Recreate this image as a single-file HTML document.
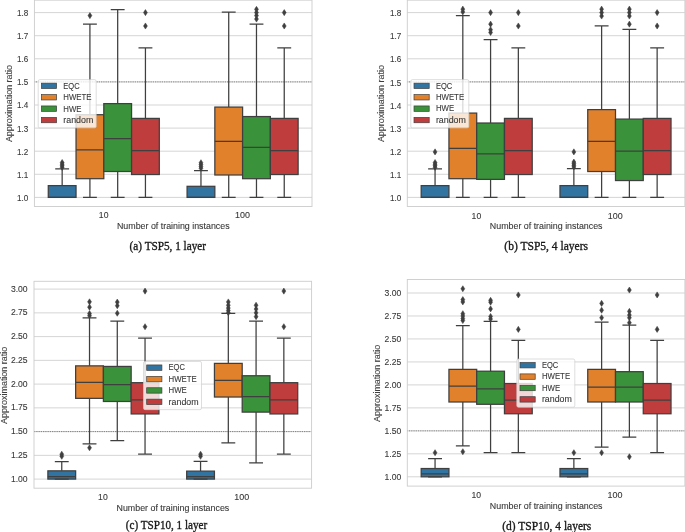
<!DOCTYPE html>
<html><head><meta charset="utf-8"><title>Boxplots</title>
<style>
html,body{margin:0;padding:0;background:#fff;}
body{width:685px;height:532px;overflow:hidden;font-family:"Liberation Sans",sans-serif;}
svg{display:block;will-change:transform;}
.ss{font-family:"Liberation Sans",sans-serif;fill:#383838;stroke:#383838;stroke-width:0.1px;}
.sf{font-family:"Liberation Serif",serif;fill:#1a1a1a;stroke:#1a1a1a;stroke-width:0.34px;}
</style></head><body>
<svg width="685" height="532" viewBox="0 0 685 532">
<rect width="685" height="532" fill="#fff"/>
<rect x="34.4" y="-0.6" width="277.6" height="207.1" fill="#fff"/>
<path d="M34.4 197.4H312M34.4 174.3H312M34.4 151.2H312M34.4 128.1H312M34.4 105H312M34.4 81.9H312M34.4 58.8H312M34.4 35.7H312M34.4 12.6H312" stroke="#d3d3d3" stroke-width="0.95" fill="none"/>
<path d="M34.4 81.9H312" stroke="#222" stroke-opacity="0.85" stroke-width="0.75" stroke-dasharray="0.75 1.05" fill="none"/>
<rect x="48.28" y="185.62" width="27.76" height="11.78" fill="#3274a1" stroke="#3f3f3f" stroke-width="1.25"/>
<path d="M55.22 197.4H69.1M62.16 185.62V168.99M55.22 168.99H69.1M48.28 197.4H76.04" stroke="#3f3f3f" stroke-width="1.25" fill="none"/>
<path d="M62.16 164.32l1.95 3.05l-1.95 3.05l-1.95 -3.05z" fill="#3f3f3f" stroke="#3f3f3f" stroke-width="0.5" stroke-linejoin="miter"/>
<path d="M62.16 162.7l1.95 3.05l-1.95 3.05l-1.95 -3.05z" fill="#3f3f3f" stroke="#3f3f3f" stroke-width="0.5" stroke-linejoin="miter"/>
<path d="M62.16 161.09l1.95 3.05l-1.95 3.05l-1.95 -3.05z" fill="#3f3f3f" stroke="#3f3f3f" stroke-width="0.5" stroke-linejoin="miter"/>
<path d="M62.16 159.47l1.95 3.05l-1.95 3.05l-1.95 -3.05z" fill="#3f3f3f" stroke="#3f3f3f" stroke-width="0.5" stroke-linejoin="miter"/>
<rect x="76.04" y="114.7" width="27.76" height="63.99" fill="#e1812c" stroke="#3f3f3f" stroke-width="1.25"/>
<path d="M89.92 178.69V197.4M82.98 197.4H96.86M89.92 114.7V24.15M82.98 24.15H96.86M76.04 149.81H103.8" stroke="#3f3f3f" stroke-width="1.25" fill="none"/>
<path d="M89.92 12.55l1.95 3.05l-1.95 3.05l-1.95 -3.05z" fill="#3f3f3f" stroke="#3f3f3f" stroke-width="0.5" stroke-linejoin="miter"/>
<rect x="103.8" y="103.61" width="27.76" height="67.91" fill="#3a923a" stroke="#3f3f3f" stroke-width="1.25"/>
<path d="M117.68 171.53V197.4M110.74 197.4H124.62M117.68 103.61V9.6M110.74 9.6H124.62M103.8 138.5H131.56" stroke="#3f3f3f" stroke-width="1.25" fill="none"/>
<rect x="131.56" y="118.4" width="27.76" height="56.13" fill="#c03d3e" stroke="#3f3f3f" stroke-width="1.25"/>
<path d="M145.44 174.53V197.4M138.5 197.4H152.38M145.44 118.4V47.94M138.5 47.94H152.38M131.56 150.51H159.32" stroke="#3f3f3f" stroke-width="1.25" fill="none"/>
<path d="M145.44 22.95l1.95 3.05l-1.95 3.05l-1.95 -3.05z" fill="#3f3f3f" stroke="#3f3f3f" stroke-width="0.5" stroke-linejoin="miter"/>
<path d="M145.44 9.55l1.95 3.05l-1.95 3.05l-1.95 -3.05z" fill="#3f3f3f" stroke="#3f3f3f" stroke-width="0.5" stroke-linejoin="miter"/>
<rect x="187.08" y="186.31" width="27.76" height="11.09" fill="#3274a1" stroke="#3f3f3f" stroke-width="1.25"/>
<path d="M194.02 197.4H207.9M200.96 186.31V170.6M194.02 170.6H207.9M187.08 197.4H214.84" stroke="#3f3f3f" stroke-width="1.25" fill="none"/>
<path d="M200.96 165.24l1.95 3.05l-1.95 3.05l-1.95 -3.05z" fill="#3f3f3f" stroke="#3f3f3f" stroke-width="0.5" stroke-linejoin="miter"/>
<path d="M200.96 163.4l1.95 3.05l-1.95 3.05l-1.95 -3.05z" fill="#3f3f3f" stroke="#3f3f3f" stroke-width="0.5" stroke-linejoin="miter"/>
<path d="M200.96 161.55l1.95 3.05l-1.95 3.05l-1.95 -3.05z" fill="#3f3f3f" stroke="#3f3f3f" stroke-width="0.5" stroke-linejoin="miter"/>
<path d="M200.96 159.7l1.95 3.05l-1.95 3.05l-1.95 -3.05z" fill="#3f3f3f" stroke="#3f3f3f" stroke-width="0.5" stroke-linejoin="miter"/>
<rect x="214.84" y="107.08" width="27.76" height="67.91" fill="#e1812c" stroke="#3f3f3f" stroke-width="1.25"/>
<path d="M228.72 174.99V197.4M221.78 197.4H235.66M228.72 107.08V12.14M221.78 12.14H235.66M214.84 141.27H242.6" stroke="#3f3f3f" stroke-width="1.25" fill="none"/>
<rect x="242.6" y="116.55" width="27.76" height="62.14" fill="#3a923a" stroke="#3f3f3f" stroke-width="1.25"/>
<path d="M256.48 178.69V197.4M249.54 197.4H263.42M256.48 116.55V24.15M249.54 24.15H263.42M242.6 147.27H270.36" stroke="#3f3f3f" stroke-width="1.25" fill="none"/>
<path d="M256.48 16.02l1.95 3.05l-1.95 3.05l-1.95 -3.05z" fill="#3f3f3f" stroke="#3f3f3f" stroke-width="0.5" stroke-linejoin="miter"/>
<path d="M256.48 12.55l1.95 3.05l-1.95 3.05l-1.95 -3.05z" fill="#3f3f3f" stroke="#3f3f3f" stroke-width="0.5" stroke-linejoin="miter"/>
<path d="M256.48 9.55l1.95 3.05l-1.95 3.05l-1.95 -3.05z" fill="#3f3f3f" stroke="#3f3f3f" stroke-width="0.5" stroke-linejoin="miter"/>
<path d="M256.48 6.32l1.95 3.05l-1.95 3.05l-1.95 -3.05z" fill="#3f3f3f" stroke="#3f3f3f" stroke-width="0.5" stroke-linejoin="miter"/>
<rect x="270.36" y="118.4" width="27.76" height="56.13" fill="#c03d3e" stroke="#3f3f3f" stroke-width="1.25"/>
<path d="M284.24 174.53V197.4M277.3 197.4H291.18M284.24 118.4V47.94M277.3 47.94H291.18M270.36 150.51H298.12" stroke="#3f3f3f" stroke-width="1.25" fill="none"/>
<path d="M284.24 22.95l1.95 3.05l-1.95 3.05l-1.95 -3.05z" fill="#3f3f3f" stroke="#3f3f3f" stroke-width="0.5" stroke-linejoin="miter"/>
<path d="M284.24 9.55l1.95 3.05l-1.95 3.05l-1.95 -3.05z" fill="#3f3f3f" stroke="#3f3f3f" stroke-width="0.5" stroke-linejoin="miter"/>
<rect x="34.4" y="0.15" width="277.6" height="206.35" fill="none" stroke="#cccccc" stroke-width="0.9"/>
<text class="ss" x="28.4" y="200.8" font-size="8.7" text-anchor="end" textLength="11.3" lengthAdjust="spacingAndGlyphs">1.0</text>
<text class="ss" x="28.4" y="177.7" font-size="8.7" text-anchor="end" textLength="11.3" lengthAdjust="spacingAndGlyphs">1.1</text>
<text class="ss" x="28.4" y="154.6" font-size="8.7" text-anchor="end" textLength="11.3" lengthAdjust="spacingAndGlyphs">1.2</text>
<text class="ss" x="28.4" y="131.5" font-size="8.7" text-anchor="end" textLength="11.3" lengthAdjust="spacingAndGlyphs">1.3</text>
<text class="ss" x="28.4" y="108.4" font-size="8.7" text-anchor="end" textLength="11.3" lengthAdjust="spacingAndGlyphs">1.4</text>
<text class="ss" x="28.4" y="85.3" font-size="8.7" text-anchor="end" textLength="11.3" lengthAdjust="spacingAndGlyphs">1.5</text>
<text class="ss" x="28.4" y="62.2" font-size="8.7" text-anchor="end" textLength="11.3" lengthAdjust="spacingAndGlyphs">1.6</text>
<text class="ss" x="28.4" y="39.1" font-size="8.7" text-anchor="end" textLength="11.3" lengthAdjust="spacingAndGlyphs">1.7</text>
<text class="ss" x="28.4" y="16" font-size="8.7" text-anchor="end" textLength="11.3" lengthAdjust="spacingAndGlyphs">1.8</text>
<text class="ss" x="103.65" y="218.3" font-size="8.7" text-anchor="middle" textLength="9.6" lengthAdjust="spacingAndGlyphs">10</text>
<text class="ss" x="242.45" y="218.3" font-size="8.7" text-anchor="middle" textLength="14.9" lengthAdjust="spacingAndGlyphs">100</text>
<text class="ss" x="173.3" y="229.2" font-size="8.7" text-anchor="middle" textLength="112.7" lengthAdjust="spacingAndGlyphs">Number of training instances</text>
<text class="ss" x="12" y="103.55" font-size="8.4" text-anchor="middle" textLength="77.1" lengthAdjust="spacingAndGlyphs" style="fill:#444" transform="rotate(-90 12 103.55)">Approximation ratio</text>
<rect x="38.2" y="79.65" width="58" height="48.2" rx="1.6" fill="#fff" fill-opacity="0.8" stroke="#cccccc" stroke-opacity="0.85" stroke-width="0.8"/>
<rect x="41.4" y="83.15" width="15.2" height="5.4" fill="#3274a1" stroke="#3f3f3f" stroke-width="0.7"/>
<text class="ss" x="63.3" y="88.95" font-size="8.7" text-anchor="start" textLength="16.3" lengthAdjust="spacingAndGlyphs">EQC</text>
<rect x="41.4" y="94.55" width="15.2" height="5.4" fill="#e1812c" stroke="#3f3f3f" stroke-width="0.7"/>
<text class="ss" x="63.3" y="100.35" font-size="8.7" text-anchor="start" textLength="28.2" lengthAdjust="spacingAndGlyphs">HWETE</text>
<rect x="41.4" y="105.95" width="15.2" height="5.4" fill="#3a923a" stroke="#3f3f3f" stroke-width="0.7"/>
<text class="ss" x="63.3" y="111.75" font-size="8.7" text-anchor="start" textLength="18.2" lengthAdjust="spacingAndGlyphs">HWE</text>
<rect x="41.4" y="117.35" width="15.2" height="5.4" fill="#c03d3e" stroke="#3f3f3f" stroke-width="0.7"/>
<text class="ss" x="63.3" y="123.15" font-size="8.7" text-anchor="start" textLength="30" lengthAdjust="spacingAndGlyphs">random</text>
<text class="sf" x="167.8" y="250" font-size="12" text-anchor="middle" textLength="76.4" lengthAdjust="spacingAndGlyphs">(a) TSP5, 1 layer</text>
<rect x="407.3" y="-0.6" width="277.6" height="207.1" fill="#fff"/>
<path d="M407.3 197.4H684.9M407.3 174.3H684.9M407.3 151.2H684.9M407.3 128.1H684.9M407.3 105H684.9M407.3 81.9H684.9M407.3 58.8H684.9M407.3 35.7H684.9M407.3 12.6H684.9" stroke="#d3d3d3" stroke-width="0.95" fill="none"/>
<path d="M407.3 81.9H684.9" stroke="#222" stroke-opacity="0.85" stroke-width="0.75" stroke-dasharray="0.75 1.05" fill="none"/>
<rect x="421.18" y="185.62" width="27.76" height="11.78" fill="#3274a1" stroke="#3f3f3f" stroke-width="1.25"/>
<path d="M428.12 197.4H442M435.06 185.62V168.99M428.12 168.99H442M421.18 197.4H448.94" stroke="#3f3f3f" stroke-width="1.25" fill="none"/>
<path d="M435.06 164.32l1.95 3.05l-1.95 3.05l-1.95 -3.05z" fill="#3f3f3f" stroke="#3f3f3f" stroke-width="0.5" stroke-linejoin="miter"/>
<path d="M435.06 162.7l1.95 3.05l-1.95 3.05l-1.95 -3.05z" fill="#3f3f3f" stroke="#3f3f3f" stroke-width="0.5" stroke-linejoin="miter"/>
<path d="M435.06 161.09l1.95 3.05l-1.95 3.05l-1.95 -3.05z" fill="#3f3f3f" stroke="#3f3f3f" stroke-width="0.5" stroke-linejoin="miter"/>
<path d="M435.06 159.47l1.95 3.05l-1.95 3.05l-1.95 -3.05z" fill="#3f3f3f" stroke="#3f3f3f" stroke-width="0.5" stroke-linejoin="miter"/>
<path d="M435.06 148.84l1.95 3.05l-1.95 3.05l-1.95 -3.05z" fill="#3f3f3f" stroke="#3f3f3f" stroke-width="0.5" stroke-linejoin="miter"/>
<rect x="448.94" y="113.09" width="27.76" height="65.6" fill="#e1812c" stroke="#3f3f3f" stroke-width="1.25"/>
<path d="M462.82 178.69V197.4M455.88 197.4H469.76M462.82 113.09V15.6M455.88 15.6H469.76M448.94 148.43H476.7" stroke="#3f3f3f" stroke-width="1.25" fill="none"/>
<path d="M462.82 8.86l1.95 3.05l-1.95 3.05l-1.95 -3.05z" fill="#3f3f3f" stroke="#3f3f3f" stroke-width="0.5" stroke-linejoin="miter"/>
<path d="M462.82 6.09l1.95 3.05l-1.95 3.05l-1.95 -3.05z" fill="#3f3f3f" stroke="#3f3f3f" stroke-width="0.5" stroke-linejoin="miter"/>
<rect x="476.7" y="123.02" width="27.76" height="56.36" fill="#3a923a" stroke="#3f3f3f" stroke-width="1.25"/>
<path d="M490.58 179.38V197.4M483.64 197.4H497.52M490.58 123.02V39.63M483.64 39.63H497.52M476.7 153.97H504.46" stroke="#3f3f3f" stroke-width="1.25" fill="none"/>
<path d="M490.58 29.42l1.95 3.05l-1.95 3.05l-1.95 -3.05z" fill="#3f3f3f" stroke="#3f3f3f" stroke-width="0.5" stroke-linejoin="miter"/>
<path d="M490.58 26.64l1.95 3.05l-1.95 3.05l-1.95 -3.05z" fill="#3f3f3f" stroke="#3f3f3f" stroke-width="0.5" stroke-linejoin="miter"/>
<path d="M490.58 21.1l1.95 3.05l-1.95 3.05l-1.95 -3.05z" fill="#3f3f3f" stroke="#3f3f3f" stroke-width="0.5" stroke-linejoin="miter"/>
<path d="M490.58 9.55l1.95 3.05l-1.95 3.05l-1.95 -3.05z" fill="#3f3f3f" stroke="#3f3f3f" stroke-width="0.5" stroke-linejoin="miter"/>
<rect x="504.46" y="118.4" width="27.76" height="56.13" fill="#c03d3e" stroke="#3f3f3f" stroke-width="1.25"/>
<path d="M518.34 174.53V197.4M511.4 197.4H525.28M518.34 118.4V47.94M511.4 47.94H525.28M504.46 150.51H532.22" stroke="#3f3f3f" stroke-width="1.25" fill="none"/>
<path d="M518.34 22.95l1.95 3.05l-1.95 3.05l-1.95 -3.05z" fill="#3f3f3f" stroke="#3f3f3f" stroke-width="0.5" stroke-linejoin="miter"/>
<path d="M518.34 9.55l1.95 3.05l-1.95 3.05l-1.95 -3.05z" fill="#3f3f3f" stroke="#3f3f3f" stroke-width="0.5" stroke-linejoin="miter"/>
<rect x="559.98" y="185.62" width="27.76" height="11.78" fill="#3274a1" stroke="#3f3f3f" stroke-width="1.25"/>
<path d="M566.92 197.4H580.8M573.86 185.62V168.53M566.92 168.53H580.8M559.98 197.4H587.74" stroke="#3f3f3f" stroke-width="1.25" fill="none"/>
<path d="M573.86 163.86l1.95 3.05l-1.95 3.05l-1.95 -3.05z" fill="#3f3f3f" stroke="#3f3f3f" stroke-width="0.5" stroke-linejoin="miter"/>
<path d="M573.86 162.24l1.95 3.05l-1.95 3.05l-1.95 -3.05z" fill="#3f3f3f" stroke="#3f3f3f" stroke-width="0.5" stroke-linejoin="miter"/>
<path d="M573.86 160.62l1.95 3.05l-1.95 3.05l-1.95 -3.05z" fill="#3f3f3f" stroke="#3f3f3f" stroke-width="0.5" stroke-linejoin="miter"/>
<path d="M573.86 159.01l1.95 3.05l-1.95 3.05l-1.95 -3.05z" fill="#3f3f3f" stroke="#3f3f3f" stroke-width="0.5" stroke-linejoin="miter"/>
<path d="M573.86 148.84l1.95 3.05l-1.95 3.05l-1.95 -3.05z" fill="#3f3f3f" stroke="#3f3f3f" stroke-width="0.5" stroke-linejoin="miter"/>
<rect x="587.74" y="109.62" width="27.76" height="61.91" fill="#e1812c" stroke="#3f3f3f" stroke-width="1.25"/>
<path d="M601.62 171.53V197.4M594.68 197.4H608.56M601.62 109.62V25.77M594.68 25.77H608.56M587.74 141.27H615.5" stroke="#3f3f3f" stroke-width="1.25" fill="none"/>
<path d="M601.62 13.02l1.95 3.05l-1.95 3.05l-1.95 -3.05z" fill="#3f3f3f" stroke="#3f3f3f" stroke-width="0.5" stroke-linejoin="miter"/>
<path d="M601.62 9.55l1.95 3.05l-1.95 3.05l-1.95 -3.05z" fill="#3f3f3f" stroke="#3f3f3f" stroke-width="0.5" stroke-linejoin="miter"/>
<path d="M601.62 6.09l1.95 3.05l-1.95 3.05l-1.95 -3.05z" fill="#3f3f3f" stroke="#3f3f3f" stroke-width="0.5" stroke-linejoin="miter"/>
<rect x="615.5" y="119.09" width="27.76" height="61.45" fill="#3a923a" stroke="#3f3f3f" stroke-width="1.25"/>
<path d="M629.38 180.54V197.4M622.44 197.4H636.32M629.38 119.09V29.46M622.44 29.46H636.32M615.5 151.2H643.26" stroke="#3f3f3f" stroke-width="1.25" fill="none"/>
<path d="M629.38 21.1l1.95 3.05l-1.95 3.05l-1.95 -3.05z" fill="#3f3f3f" stroke="#3f3f3f" stroke-width="0.5" stroke-linejoin="miter"/>
<path d="M629.38 13.02l1.95 3.05l-1.95 3.05l-1.95 -3.05z" fill="#3f3f3f" stroke="#3f3f3f" stroke-width="0.5" stroke-linejoin="miter"/>
<path d="M629.38 9.55l1.95 3.05l-1.95 3.05l-1.95 -3.05z" fill="#3f3f3f" stroke="#3f3f3f" stroke-width="0.5" stroke-linejoin="miter"/>
<path d="M629.38 6.09l1.95 3.05l-1.95 3.05l-1.95 -3.05z" fill="#3f3f3f" stroke="#3f3f3f" stroke-width="0.5" stroke-linejoin="miter"/>
<rect x="643.26" y="118.4" width="27.76" height="56.13" fill="#c03d3e" stroke="#3f3f3f" stroke-width="1.25"/>
<path d="M657.14 174.53V197.4M650.2 197.4H664.08M657.14 118.4V47.94M650.2 47.94H664.08M643.26 150.51H671.02" stroke="#3f3f3f" stroke-width="1.25" fill="none"/>
<path d="M657.14 22.95l1.95 3.05l-1.95 3.05l-1.95 -3.05z" fill="#3f3f3f" stroke="#3f3f3f" stroke-width="0.5" stroke-linejoin="miter"/>
<path d="M657.14 9.55l1.95 3.05l-1.95 3.05l-1.95 -3.05z" fill="#3f3f3f" stroke="#3f3f3f" stroke-width="0.5" stroke-linejoin="miter"/>
<rect x="407.3" y="0.15" width="277.6" height="206.35" fill="none" stroke="#cccccc" stroke-width="0.9"/>
<text class="ss" x="401.3" y="201.05" font-size="8.7" text-anchor="end" textLength="11.3" lengthAdjust="spacingAndGlyphs">1.0</text>
<text class="ss" x="401.3" y="177.95" font-size="8.7" text-anchor="end" textLength="11.3" lengthAdjust="spacingAndGlyphs">1.1</text>
<text class="ss" x="401.3" y="154.85" font-size="8.7" text-anchor="end" textLength="11.3" lengthAdjust="spacingAndGlyphs">1.2</text>
<text class="ss" x="401.3" y="131.75" font-size="8.7" text-anchor="end" textLength="11.3" lengthAdjust="spacingAndGlyphs">1.3</text>
<text class="ss" x="401.3" y="108.65" font-size="8.7" text-anchor="end" textLength="11.3" lengthAdjust="spacingAndGlyphs">1.4</text>
<text class="ss" x="401.3" y="85.55" font-size="8.7" text-anchor="end" textLength="11.3" lengthAdjust="spacingAndGlyphs">1.5</text>
<text class="ss" x="401.3" y="62.45" font-size="8.7" text-anchor="end" textLength="11.3" lengthAdjust="spacingAndGlyphs">1.6</text>
<text class="ss" x="401.3" y="39.35" font-size="8.7" text-anchor="end" textLength="11.3" lengthAdjust="spacingAndGlyphs">1.7</text>
<text class="ss" x="401.3" y="16.25" font-size="8.7" text-anchor="end" textLength="11.3" lengthAdjust="spacingAndGlyphs">1.8</text>
<text class="ss" x="476.4" y="218.7" font-size="8.7" text-anchor="middle" textLength="9.6" lengthAdjust="spacingAndGlyphs">10</text>
<text class="ss" x="615.2" y="218.7" font-size="8.7" text-anchor="middle" textLength="14.9" lengthAdjust="spacingAndGlyphs">100</text>
<text class="ss" x="546.2" y="229.2" font-size="8.7" text-anchor="middle" textLength="112.7" lengthAdjust="spacingAndGlyphs">Number of training instances</text>
<text class="ss" x="384.3" y="103.55" font-size="8.4" text-anchor="middle" textLength="77.1" lengthAdjust="spacingAndGlyphs" style="fill:#444" transform="rotate(-90 384.3 103.55)">Approximation ratio</text>
<rect x="410.8" y="79.65" width="58" height="48.2" rx="1.6" fill="#fff" fill-opacity="0.8" stroke="#cccccc" stroke-opacity="0.85" stroke-width="0.8"/>
<rect x="414" y="83.15" width="15.2" height="5.4" fill="#3274a1" stroke="#3f3f3f" stroke-width="0.7"/>
<text class="ss" x="435.9" y="88.65" font-size="8.7" text-anchor="start" textLength="16.3" lengthAdjust="spacingAndGlyphs">EQC</text>
<rect x="414" y="94.55" width="15.2" height="5.4" fill="#e1812c" stroke="#3f3f3f" stroke-width="0.7"/>
<text class="ss" x="435.9" y="100.05" font-size="8.7" text-anchor="start" textLength="28.2" lengthAdjust="spacingAndGlyphs">HWETE</text>
<rect x="414" y="105.95" width="15.2" height="5.4" fill="#3a923a" stroke="#3f3f3f" stroke-width="0.7"/>
<text class="ss" x="435.9" y="111.45" font-size="8.7" text-anchor="start" textLength="18.2" lengthAdjust="spacingAndGlyphs">HWE</text>
<rect x="414" y="117.35" width="15.2" height="5.4" fill="#c03d3e" stroke="#3f3f3f" stroke-width="0.7"/>
<text class="ss" x="435.9" y="122.85" font-size="8.7" text-anchor="start" textLength="30" lengthAdjust="spacingAndGlyphs">random</text>
<text class="sf" x="546.2" y="250" font-size="12" text-anchor="middle" textLength="83.7" lengthAdjust="spacingAndGlyphs">(b) TSP5, 4 layers</text>
<rect x="34" y="281.3" width="277.6" height="206.9" fill="#fff"/>
<path d="M34 479.1H311.6M34 455.35H311.6M34 431.6H311.6M34 407.85H311.6M34 384.1H311.6M34 360.35H311.6M34 336.6H311.6M34 312.85H311.6M34 289.1H311.6" stroke="#d3d3d3" stroke-width="0.95" fill="none"/>
<path d="M34 431.6H311.6" stroke="#222" stroke-opacity="0.85" stroke-width="0.75" stroke-dasharray="0.75 1.05" fill="none"/>
<rect x="47.88" y="470.84" width="27.76" height="8.26" fill="#3274a1" stroke="#3f3f3f" stroke-width="1.25"/>
<path d="M54.82 479.1H68.7M61.76 470.84V461.62M54.82 461.62H68.7M47.88 476.63H75.64" stroke="#3f3f3f" stroke-width="1.25" fill="none"/>
<path d="M61.76 453.25l1.95 3.05l-1.95 3.05l-1.95 -3.05z" fill="#3f3f3f" stroke="#3f3f3f" stroke-width="0.5" stroke-linejoin="miter"/>
<path d="M61.76 451.16l1.95 3.05l-1.95 3.05l-1.95 -3.05z" fill="#3f3f3f" stroke="#3f3f3f" stroke-width="0.5" stroke-linejoin="miter"/>
<rect x="75.64" y="365.86" width="27.76" height="32.49" fill="#e1812c" stroke="#3f3f3f" stroke-width="1.25"/>
<path d="M89.52 398.35V443.95M82.58 443.95H96.46M89.52 365.86V317.98M82.58 317.98H96.46M75.64 382.49H103.4" stroke="#3f3f3f" stroke-width="1.25" fill="none"/>
<path d="M89.52 444.7l1.95 3.05l-1.95 3.05l-1.95 -3.05z" fill="#3f3f3f" stroke="#3f3f3f" stroke-width="0.5" stroke-linejoin="miter"/>
<path d="M89.52 312.65l1.95 3.05l-1.95 3.05l-1.95 -3.05z" fill="#3f3f3f" stroke="#3f3f3f" stroke-width="0.5" stroke-linejoin="miter"/>
<path d="M89.52 310.56l1.95 3.05l-1.95 3.05l-1.95 -3.05z" fill="#3f3f3f" stroke="#3f3f3f" stroke-width="0.5" stroke-linejoin="miter"/>
<path d="M89.52 304.1l1.95 3.05l-1.95 3.05l-1.95 -3.05z" fill="#3f3f3f" stroke="#3f3f3f" stroke-width="0.5" stroke-linejoin="miter"/>
<path d="M89.52 298.78l1.95 3.05l-1.95 3.05l-1.95 -3.05z" fill="#3f3f3f" stroke="#3f3f3f" stroke-width="0.5" stroke-linejoin="miter"/>
<rect x="103.4" y="366.43" width="27.76" height="35.05" fill="#3a923a" stroke="#3f3f3f" stroke-width="1.25"/>
<path d="M117.28 401.49V440.72M110.34 440.72H124.22M117.28 366.43V321.21M110.34 321.21H124.22M103.4 384.67H131.16" stroke="#3f3f3f" stroke-width="1.25" fill="none"/>
<path d="M117.28 310.18l1.95 3.05l-1.95 3.05l-1.95 -3.05z" fill="#3f3f3f" stroke="#3f3f3f" stroke-width="0.5" stroke-linejoin="miter"/>
<path d="M117.28 302.68l1.95 3.05l-1.95 3.05l-1.95 -3.05z" fill="#3f3f3f" stroke="#3f3f3f" stroke-width="0.5" stroke-linejoin="miter"/>
<path d="M117.28 299.06l1.95 3.05l-1.95 3.05l-1.95 -3.05z" fill="#3f3f3f" stroke="#3f3f3f" stroke-width="0.5" stroke-linejoin="miter"/>
<rect x="131.16" y="382.68" width="27.76" height="31.26" fill="#c03d3e" stroke="#3f3f3f" stroke-width="1.25"/>
<path d="M145.04 413.93V454.21M138.1 454.21H151.98M145.04 382.68V338.12M138.1 338.12H151.98M131.16 399.78H158.92" stroke="#3f3f3f" stroke-width="1.25" fill="none"/>
<path d="M145.04 323.67l1.95 3.05l-1.95 3.05l-1.95 -3.05z" fill="#3f3f3f" stroke="#3f3f3f" stroke-width="0.5" stroke-linejoin="miter"/>
<path d="M145.04 288.05l1.95 3.05l-1.95 3.05l-1.95 -3.05z" fill="#3f3f3f" stroke="#3f3f3f" stroke-width="0.5" stroke-linejoin="miter"/>
<rect x="186.68" y="471.12" width="27.76" height="7.98" fill="#3274a1" stroke="#3f3f3f" stroke-width="1.25"/>
<path d="M193.62 479.1H207.5M200.56 471.12V461.34M193.62 461.34H207.5M186.68 476.63H214.44" stroke="#3f3f3f" stroke-width="1.25" fill="none"/>
<path d="M200.56 453.25l1.95 3.05l-1.95 3.05l-1.95 -3.05z" fill="#3f3f3f" stroke="#3f3f3f" stroke-width="0.5" stroke-linejoin="miter"/>
<path d="M200.56 451.16l1.95 3.05l-1.95 3.05l-1.95 -3.05z" fill="#3f3f3f" stroke="#3f3f3f" stroke-width="0.5" stroke-linejoin="miter"/>
<rect x="214.44" y="363.39" width="27.76" height="33.63" fill="#e1812c" stroke="#3f3f3f" stroke-width="1.25"/>
<path d="M228.32 397.02V442.91M221.38 442.91H235.26M228.32 363.39V313.42M221.38 313.42H235.26M214.44 380.49H242.2" stroke="#3f3f3f" stroke-width="1.25" fill="none"/>
<path d="M228.32 309.61l1.95 3.05l-1.95 3.05l-1.95 -3.05z" fill="#3f3f3f" stroke="#3f3f3f" stroke-width="0.5" stroke-linejoin="miter"/>
<path d="M228.32 307.43l1.95 3.05l-1.95 3.05l-1.95 -3.05z" fill="#3f3f3f" stroke="#3f3f3f" stroke-width="0.5" stroke-linejoin="miter"/>
<path d="M228.32 305.05l1.95 3.05l-1.95 3.05l-1.95 -3.05z" fill="#3f3f3f" stroke="#3f3f3f" stroke-width="0.5" stroke-linejoin="miter"/>
<path d="M228.32 302.2l1.95 3.05l-1.95 3.05l-1.95 -3.05z" fill="#3f3f3f" stroke="#3f3f3f" stroke-width="0.5" stroke-linejoin="miter"/>
<path d="M228.32 298.88l1.95 3.05l-1.95 3.05l-1.95 -3.05z" fill="#3f3f3f" stroke="#3f3f3f" stroke-width="0.5" stroke-linejoin="miter"/>
<rect x="242.2" y="375.74" width="27.76" height="36.38" fill="#3a923a" stroke="#3f3f3f" stroke-width="1.25"/>
<path d="M256.08 412.12V462.76M249.14 462.76H263.02M256.08 375.74V321.21M249.14 321.21H263.02M242.2 396.55H269.96" stroke="#3f3f3f" stroke-width="1.25" fill="none"/>
<path d="M256.08 313.6l1.95 3.05l-1.95 3.05l-1.95 -3.05z" fill="#3f3f3f" stroke="#3f3f3f" stroke-width="0.5" stroke-linejoin="miter"/>
<path d="M256.08 309.8l1.95 3.05l-1.95 3.05l-1.95 -3.05z" fill="#3f3f3f" stroke="#3f3f3f" stroke-width="0.5" stroke-linejoin="miter"/>
<path d="M256.08 306l1.95 3.05l-1.95 3.05l-1.95 -3.05z" fill="#3f3f3f" stroke="#3f3f3f" stroke-width="0.5" stroke-linejoin="miter"/>
<path d="M256.08 302.2l1.95 3.05l-1.95 3.05l-1.95 -3.05z" fill="#3f3f3f" stroke="#3f3f3f" stroke-width="0.5" stroke-linejoin="miter"/>
<rect x="269.96" y="382.68" width="27.76" height="31.26" fill="#c03d3e" stroke="#3f3f3f" stroke-width="1.25"/>
<path d="M283.84 413.93V454.21M276.9 454.21H290.78M283.84 382.68V338.12M276.9 338.12H290.78M269.96 399.78H297.72" stroke="#3f3f3f" stroke-width="1.25" fill="none"/>
<path d="M283.84 323.67l1.95 3.05l-1.95 3.05l-1.95 -3.05z" fill="#3f3f3f" stroke="#3f3f3f" stroke-width="0.5" stroke-linejoin="miter"/>
<path d="M283.84 288.05l1.95 3.05l-1.95 3.05l-1.95 -3.05z" fill="#3f3f3f" stroke="#3f3f3f" stroke-width="0.5" stroke-linejoin="miter"/>
<rect x="34" y="281.3" width="277.6" height="206.9" fill="none" stroke="#cccccc" stroke-width="0.9"/>
<text class="ss" x="27.6" y="481.7" font-size="8.7" text-anchor="end" textLength="16.7" lengthAdjust="spacingAndGlyphs">1.00</text>
<text class="ss" x="27.6" y="457.95" font-size="8.7" text-anchor="end" textLength="16.7" lengthAdjust="spacingAndGlyphs">1.25</text>
<text class="ss" x="27.6" y="434.2" font-size="8.7" text-anchor="end" textLength="16.7" lengthAdjust="spacingAndGlyphs">1.50</text>
<text class="ss" x="27.6" y="410.45" font-size="8.7" text-anchor="end" textLength="16.7" lengthAdjust="spacingAndGlyphs">1.75</text>
<text class="ss" x="27.6" y="386.7" font-size="8.7" text-anchor="end" textLength="16.7" lengthAdjust="spacingAndGlyphs">2.00</text>
<text class="ss" x="27.6" y="362.95" font-size="8.7" text-anchor="end" textLength="16.7" lengthAdjust="spacingAndGlyphs">2.25</text>
<text class="ss" x="27.6" y="339.2" font-size="8.7" text-anchor="end" textLength="16.7" lengthAdjust="spacingAndGlyphs">2.50</text>
<text class="ss" x="27.6" y="315.45" font-size="8.7" text-anchor="end" textLength="16.7" lengthAdjust="spacingAndGlyphs">2.75</text>
<text class="ss" x="27.6" y="291.7" font-size="8.7" text-anchor="end" textLength="16.7" lengthAdjust="spacingAndGlyphs">3.00</text>
<text class="ss" x="102.9" y="500" font-size="8.7" text-anchor="middle" textLength="9.6" lengthAdjust="spacingAndGlyphs">10</text>
<text class="ss" x="241.7" y="500" font-size="8.7" text-anchor="middle" textLength="14.9" lengthAdjust="spacingAndGlyphs">100</text>
<text class="ss" x="172.9" y="510.9" font-size="8.7" text-anchor="middle" textLength="112.7" lengthAdjust="spacingAndGlyphs">Number of training instances</text>
<text class="ss" x="6.7" y="385.35" font-size="8.4" text-anchor="middle" textLength="77.1" lengthAdjust="spacingAndGlyphs" style="fill:#444" transform="rotate(-90 6.7 385.35)">Approximation ratio</text>
<rect x="143.5" y="361.45" width="58" height="48.2" rx="1.6" fill="#fff" fill-opacity="0.8" stroke="#cccccc" stroke-opacity="0.85" stroke-width="0.8"/>
<rect x="146.7" y="364.95" width="15.2" height="5.4" fill="#3274a1" stroke="#3f3f3f" stroke-width="0.7"/>
<text class="ss" x="168.6" y="370.3" font-size="8.7" text-anchor="start" textLength="16.3" lengthAdjust="spacingAndGlyphs">EQC</text>
<rect x="146.7" y="376.35" width="15.2" height="5.4" fill="#e1812c" stroke="#3f3f3f" stroke-width="0.7"/>
<text class="ss" x="168.6" y="381.7" font-size="8.7" text-anchor="start" textLength="28.2" lengthAdjust="spacingAndGlyphs">HWETE</text>
<rect x="146.7" y="387.75" width="15.2" height="5.4" fill="#3a923a" stroke="#3f3f3f" stroke-width="0.7"/>
<text class="ss" x="168.6" y="393.1" font-size="8.7" text-anchor="start" textLength="18.2" lengthAdjust="spacingAndGlyphs">HWE</text>
<rect x="146.7" y="399.15" width="15.2" height="5.4" fill="#c03d3e" stroke="#3f3f3f" stroke-width="0.7"/>
<text class="ss" x="168.6" y="404.5" font-size="8.7" text-anchor="start" textLength="30" lengthAdjust="spacingAndGlyphs">random</text>
<text class="sf" x="166.5" y="528.6" font-size="12" text-anchor="middle" textLength="81.4" lengthAdjust="spacingAndGlyphs">(c) TSP10, 1 layer</text>
<rect x="407.3" y="279.5" width="277.6" height="206.6" fill="#fff"/>
<path d="M407.3 476.8H684.9M407.3 453.82H684.9M407.3 430.85H684.9M407.3 407.88H684.9M407.3 384.9H684.9M407.3 361.93H684.9M407.3 338.95H684.9M407.3 315.98H684.9M407.3 293H684.9" stroke="#d3d3d3" stroke-width="0.95" fill="none"/>
<path d="M407.3 430.85H684.9" stroke="#222" stroke-opacity="0.85" stroke-width="0.75" stroke-dasharray="0.75 1.05" fill="none"/>
<rect x="421.18" y="468.53" width="27.76" height="8.27" fill="#3274a1" stroke="#3f3f3f" stroke-width="1.25"/>
<path d="M428.12 476.8H442M435.06 468.53V458.51M428.12 458.51H442M421.18 473.77H448.94" stroke="#3f3f3f" stroke-width="1.25" fill="none"/>
<path d="M435.06 449.67l1.95 3.05l-1.95 3.05l-1.95 -3.05z" fill="#3f3f3f" stroke="#3f3f3f" stroke-width="0.5" stroke-linejoin="miter"/>
<rect x="448.94" y="369.37" width="27.76" height="32.62" fill="#e1812c" stroke="#3f3f3f" stroke-width="1.25"/>
<path d="M462.82 401.99V445.92M455.88 445.92H469.76M462.82 369.37V325.72M455.88 325.72H469.76M448.94 386H476.7" stroke="#3f3f3f" stroke-width="1.25" fill="none"/>
<path d="M462.82 448.66l1.95 3.05l-1.95 3.05l-1.95 -3.05z" fill="#3f3f3f" stroke="#3f3f3f" stroke-width="0.5" stroke-linejoin="miter"/>
<path d="M462.82 317.52l1.95 3.05l-1.95 3.05l-1.95 -3.05z" fill="#3f3f3f" stroke="#3f3f3f" stroke-width="0.5" stroke-linejoin="miter"/>
<path d="M462.82 315.5l1.95 3.05l-1.95 3.05l-1.95 -3.05z" fill="#3f3f3f" stroke="#3f3f3f" stroke-width="0.5" stroke-linejoin="miter"/>
<path d="M462.82 312.93l1.95 3.05l-1.95 3.05l-1.95 -3.05z" fill="#3f3f3f" stroke="#3f3f3f" stroke-width="0.5" stroke-linejoin="miter"/>
<path d="M462.82 310.63l1.95 3.05l-1.95 3.05l-1.95 -3.05z" fill="#3f3f3f" stroke="#3f3f3f" stroke-width="0.5" stroke-linejoin="miter"/>
<path d="M462.82 298.86l1.95 3.05l-1.95 3.05l-1.95 -3.05z" fill="#3f3f3f" stroke="#3f3f3f" stroke-width="0.5" stroke-linejoin="miter"/>
<path d="M462.82 296.57l1.95 3.05l-1.95 3.05l-1.95 -3.05z" fill="#3f3f3f" stroke="#3f3f3f" stroke-width="0.5" stroke-linejoin="miter"/>
<path d="M462.82 285.72l1.95 3.05l-1.95 3.05l-1.95 -3.05z" fill="#3f3f3f" stroke="#3f3f3f" stroke-width="0.5" stroke-linejoin="miter"/>
<rect x="476.7" y="371.21" width="27.76" height="33.08" fill="#3a923a" stroke="#3f3f3f" stroke-width="1.25"/>
<path d="M490.58 404.29V452.72M483.64 452.72H497.52M490.58 371.21V321.49M483.64 321.49H497.52M476.7 388.76H504.46" stroke="#3f3f3f" stroke-width="1.25" fill="none"/>
<path d="M490.58 315.96l1.95 3.05l-1.95 3.05l-1.95 -3.05z" fill="#3f3f3f" stroke="#3f3f3f" stroke-width="0.5" stroke-linejoin="miter"/>
<path d="M490.58 313.38l1.95 3.05l-1.95 3.05l-1.95 -3.05z" fill="#3f3f3f" stroke="#3f3f3f" stroke-width="0.5" stroke-linejoin="miter"/>
<path d="M490.58 305.85l1.95 3.05l-1.95 3.05l-1.95 -3.05z" fill="#3f3f3f" stroke="#3f3f3f" stroke-width="0.5" stroke-linejoin="miter"/>
<path d="M490.58 299.14l1.95 3.05l-1.95 3.05l-1.95 -3.05z" fill="#3f3f3f" stroke="#3f3f3f" stroke-width="0.5" stroke-linejoin="miter"/>
<path d="M490.58 297.3l1.95 3.05l-1.95 3.05l-1.95 -3.05z" fill="#3f3f3f" stroke="#3f3f3f" stroke-width="0.5" stroke-linejoin="miter"/>
<rect x="504.46" y="383.52" width="27.76" height="30.24" fill="#c03d3e" stroke="#3f3f3f" stroke-width="1.25"/>
<path d="M518.34 413.76V452.72M511.4 452.72H525.28M518.34 383.52V340.42M511.4 340.42H525.28M504.46 400.06H532.22" stroke="#3f3f3f" stroke-width="1.25" fill="none"/>
<path d="M518.34 326.34l1.95 3.05l-1.95 3.05l-1.95 -3.05z" fill="#3f3f3f" stroke="#3f3f3f" stroke-width="0.5" stroke-linejoin="miter"/>
<path d="M518.34 291.88l1.95 3.05l-1.95 3.05l-1.95 -3.05z" fill="#3f3f3f" stroke="#3f3f3f" stroke-width="0.5" stroke-linejoin="miter"/>
<rect x="559.98" y="468.53" width="27.76" height="8.27" fill="#3274a1" stroke="#3f3f3f" stroke-width="1.25"/>
<path d="M566.92 476.8H580.8M573.86 468.53V458.51M566.92 458.51H580.8M559.98 473.77H587.74" stroke="#3f3f3f" stroke-width="1.25" fill="none"/>
<path d="M573.86 449.67l1.95 3.05l-1.95 3.05l-1.95 -3.05z" fill="#3f3f3f" stroke="#3f3f3f" stroke-width="0.5" stroke-linejoin="miter"/>
<rect x="587.74" y="369.37" width="27.76" height="32.62" fill="#e1812c" stroke="#3f3f3f" stroke-width="1.25"/>
<path d="M601.62 401.99V447.21M594.68 447.21H608.56M601.62 369.37V322.22M594.68 322.22H608.56M587.74 387.2H615.5" stroke="#3f3f3f" stroke-width="1.25" fill="none"/>
<path d="M601.62 449.67l1.95 3.05l-1.95 3.05l-1.95 -3.05z" fill="#3f3f3f" stroke="#3f3f3f" stroke-width="0.5" stroke-linejoin="miter"/>
<path d="M601.62 314.67l1.95 3.05l-1.95 3.05l-1.95 -3.05z" fill="#3f3f3f" stroke="#3f3f3f" stroke-width="0.5" stroke-linejoin="miter"/>
<path d="M601.62 307.14l1.95 3.05l-1.95 3.05l-1.95 -3.05z" fill="#3f3f3f" stroke="#3f3f3f" stroke-width="0.5" stroke-linejoin="miter"/>
<path d="M601.62 300.33l1.95 3.05l-1.95 3.05l-1.95 -3.05z" fill="#3f3f3f" stroke="#3f3f3f" stroke-width="0.5" stroke-linejoin="miter"/>
<rect x="615.5" y="371.67" width="27.76" height="30.33" fill="#3a923a" stroke="#3f3f3f" stroke-width="1.25"/>
<path d="M629.38 401.99V437.19M622.44 437.19H636.32M629.38 371.67V325.17M622.44 325.17H636.32M615.5 387.2H643.26" stroke="#3f3f3f" stroke-width="1.25" fill="none"/>
<path d="M629.38 453.72l1.95 3.05l-1.95 3.05l-1.95 -3.05z" fill="#3f3f3f" stroke="#3f3f3f" stroke-width="0.5" stroke-linejoin="miter"/>
<path d="M629.38 319.63l1.95 3.05l-1.95 3.05l-1.95 -3.05z" fill="#3f3f3f" stroke="#3f3f3f" stroke-width="0.5" stroke-linejoin="miter"/>
<path d="M629.38 314.67l1.95 3.05l-1.95 3.05l-1.95 -3.05z" fill="#3f3f3f" stroke="#3f3f3f" stroke-width="0.5" stroke-linejoin="miter"/>
<path d="M629.38 312.01l1.95 3.05l-1.95 3.05l-1.95 -3.05z" fill="#3f3f3f" stroke="#3f3f3f" stroke-width="0.5" stroke-linejoin="miter"/>
<path d="M629.38 308.33l1.95 3.05l-1.95 3.05l-1.95 -3.05z" fill="#3f3f3f" stroke="#3f3f3f" stroke-width="0.5" stroke-linejoin="miter"/>
<path d="M629.38 287.01l1.95 3.05l-1.95 3.05l-1.95 -3.05z" fill="#3f3f3f" stroke="#3f3f3f" stroke-width="0.5" stroke-linejoin="miter"/>
<rect x="643.26" y="383.52" width="27.76" height="30.24" fill="#c03d3e" stroke="#3f3f3f" stroke-width="1.25"/>
<path d="M657.14 413.76V452.72M650.2 452.72H664.08M657.14 383.52V340.42M650.2 340.42H664.08M643.26 400.06H671.02" stroke="#3f3f3f" stroke-width="1.25" fill="none"/>
<path d="M657.14 326.34l1.95 3.05l-1.95 3.05l-1.95 -3.05z" fill="#3f3f3f" stroke="#3f3f3f" stroke-width="0.5" stroke-linejoin="miter"/>
<path d="M657.14 291.88l1.95 3.05l-1.95 3.05l-1.95 -3.05z" fill="#3f3f3f" stroke="#3f3f3f" stroke-width="0.5" stroke-linejoin="miter"/>
<rect x="407.3" y="279.5" width="277.6" height="206.6" fill="none" stroke="#cccccc" stroke-width="0.9"/>
<text class="ss" x="401.3" y="479.85" font-size="8.7" text-anchor="end" textLength="16.7" lengthAdjust="spacingAndGlyphs">1.00</text>
<text class="ss" x="401.3" y="456.88" font-size="8.7" text-anchor="end" textLength="16.7" lengthAdjust="spacingAndGlyphs">1.25</text>
<text class="ss" x="401.3" y="433.9" font-size="8.7" text-anchor="end" textLength="16.7" lengthAdjust="spacingAndGlyphs">1.50</text>
<text class="ss" x="401.3" y="410.93" font-size="8.7" text-anchor="end" textLength="16.7" lengthAdjust="spacingAndGlyphs">1.75</text>
<text class="ss" x="401.3" y="387.95" font-size="8.7" text-anchor="end" textLength="16.7" lengthAdjust="spacingAndGlyphs">2.00</text>
<text class="ss" x="401.3" y="364.98" font-size="8.7" text-anchor="end" textLength="16.7" lengthAdjust="spacingAndGlyphs">2.25</text>
<text class="ss" x="401.3" y="342" font-size="8.7" text-anchor="end" textLength="16.7" lengthAdjust="spacingAndGlyphs">2.50</text>
<text class="ss" x="401.3" y="319.03" font-size="8.7" text-anchor="end" textLength="16.7" lengthAdjust="spacingAndGlyphs">2.75</text>
<text class="ss" x="401.3" y="296.05" font-size="8.7" text-anchor="end" textLength="16.7" lengthAdjust="spacingAndGlyphs">3.00</text>
<text class="ss" x="476.25" y="497.9" font-size="8.7" text-anchor="middle" textLength="9.6" lengthAdjust="spacingAndGlyphs">10</text>
<text class="ss" x="615.05" y="497.9" font-size="8.7" text-anchor="middle" textLength="14.9" lengthAdjust="spacingAndGlyphs">100</text>
<text class="ss" x="546.2" y="508.8" font-size="8.7" text-anchor="middle" textLength="112.7" lengthAdjust="spacingAndGlyphs">Number of training instances</text>
<text class="ss" x="380.3" y="383.4" font-size="8.4" text-anchor="middle" textLength="77.1" lengthAdjust="spacingAndGlyphs" style="fill:#444" transform="rotate(-90 380.3 383.4)">Approximation ratio</text>
<rect x="516.8" y="359" width="58" height="48.2" rx="1.6" fill="#fff" fill-opacity="0.8" stroke="#cccccc" stroke-opacity="0.85" stroke-width="0.8"/>
<rect x="520" y="362.5" width="15.2" height="5.4" fill="#3274a1" stroke="#3f3f3f" stroke-width="0.7"/>
<text class="ss" x="541.9" y="367.85" font-size="8.7" text-anchor="start" textLength="16.3" lengthAdjust="spacingAndGlyphs">EQC</text>
<rect x="520" y="373.9" width="15.2" height="5.4" fill="#e1812c" stroke="#3f3f3f" stroke-width="0.7"/>
<text class="ss" x="541.9" y="379.25" font-size="8.7" text-anchor="start" textLength="28.2" lengthAdjust="spacingAndGlyphs">HWETE</text>
<rect x="520" y="385.3" width="15.2" height="5.4" fill="#3a923a" stroke="#3f3f3f" stroke-width="0.7"/>
<text class="ss" x="541.9" y="390.65" font-size="8.7" text-anchor="start" textLength="18.2" lengthAdjust="spacingAndGlyphs">HWE</text>
<rect x="520" y="396.7" width="15.2" height="5.4" fill="#c03d3e" stroke="#3f3f3f" stroke-width="0.7"/>
<text class="ss" x="541.9" y="402.05" font-size="8.7" text-anchor="start" textLength="30" lengthAdjust="spacingAndGlyphs">random</text>
<text class="sf" x="546.8" y="529.5" font-size="12" text-anchor="middle" textLength="89" lengthAdjust="spacingAndGlyphs">(d) TSP10, 4 layers</text>
</svg>
</body></html>
